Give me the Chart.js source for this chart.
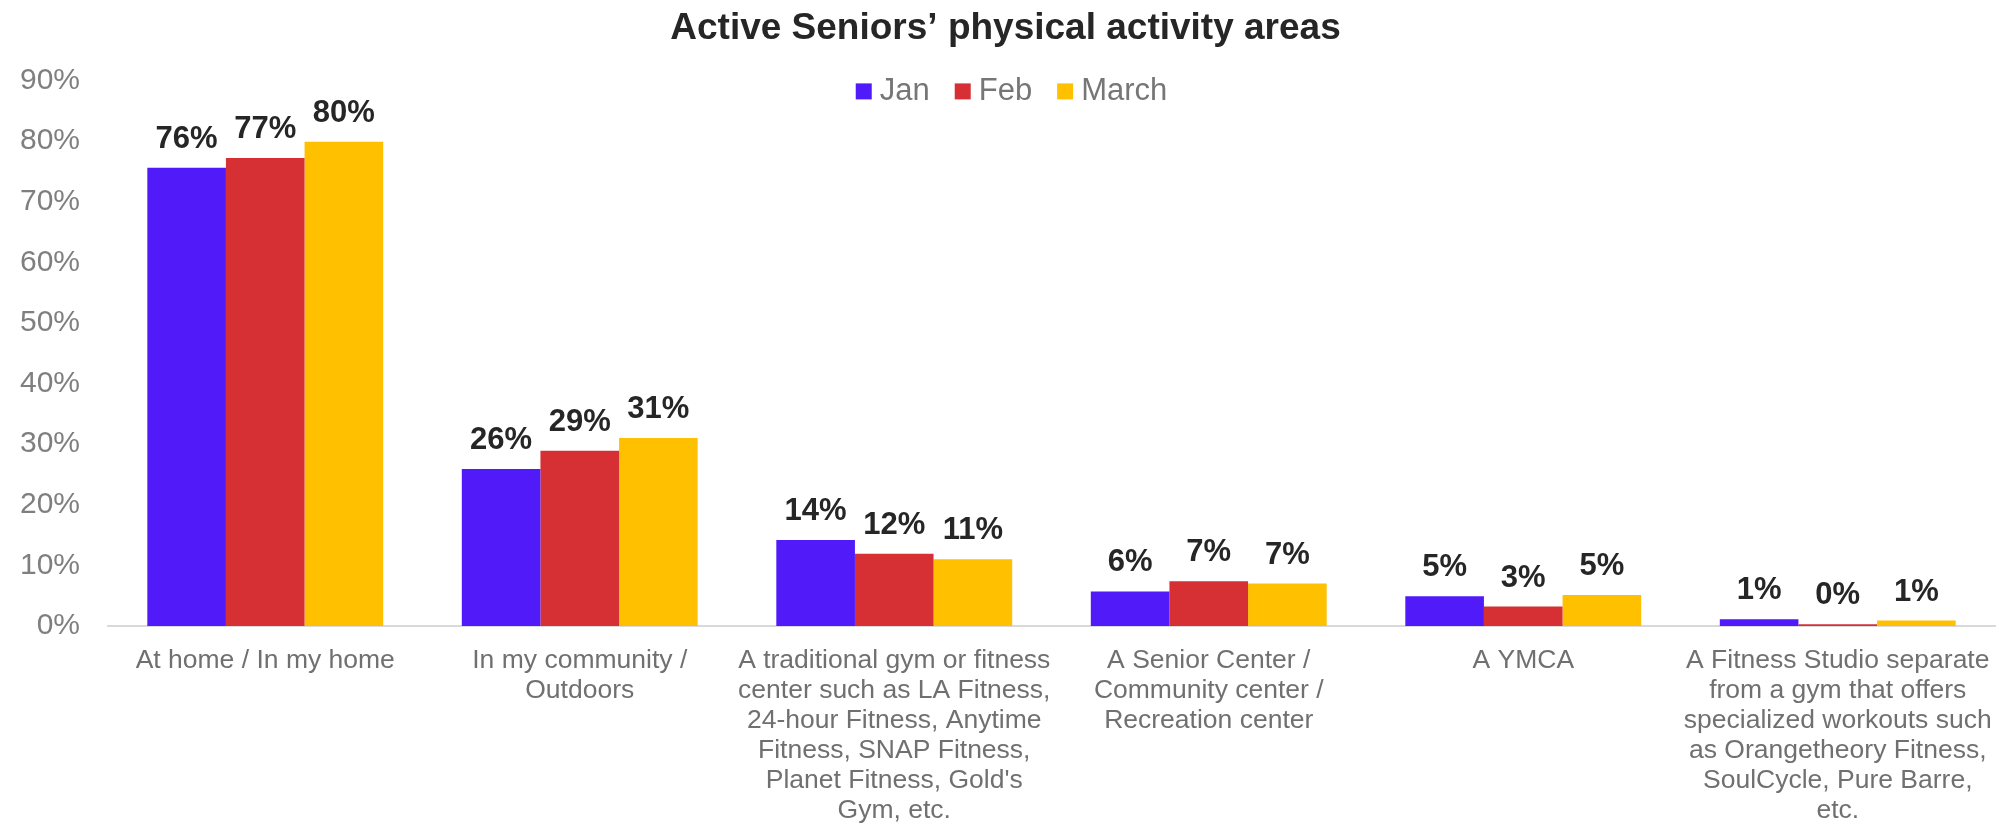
<!DOCTYPE html>
<html>
<head>
<meta charset="utf-8">
<title>Active Seniors’ physical activity areas</title>
<script src="https://cdn.jsdelivr.net/npm/chart.js@4.4.0/dist/chart.umd.min.js"></script>
<style>
  html, body { margin: 0; padding: 0; background: #fff; }
  #areaChart { display: block; }
</style>
</head>
<body>
<canvas id="areaChart" width="2003" height="823"></canvas>
<script>
var categories = [
    ["At home / In my home"],
    ["In my community /", "Outdoors"],
    ["A traditional gym or fitness", "center such as LA Fitness,", "24-hour Fitness, Anytime",
     "Fitness, SNAP Fitness,", "Planet Fitness, Gold's", "Gym, etc."],
    ["A Senior Center /", "Community center /", "Recreation center"],
    ["A YMCA"],
    ["A Fitness Studio separate", "from a gym that offers", "specialized workouts such",
     "as Orangetheory Fitness,", "SoulCycle, Pure Barre,", "etc."]
];
var seriesNames = ["Jan", "Feb", "March"];
var janValues = [75.6, 25.9, 14.2, 5.7, 4.9, 1.1];
var febValues = [77.2, 28.9, 11.9, 7.4, 3.2, 0.3];
var marchValues = [79.9, 31.0, 11.0, 7.0, 5.1, 0.9];
var yTicks = [0, 10, 20, 30, 40, 50, 60, 70, 80, 90];

var janColor = '#501AF9';
var febColor = '#D63035';
var marchColor = '#FFC000';
var fontFamily = '"Liberation Sans", Arial, Helvetica, sans-serif';

Chart.defaults.font.family = fontFamily;

// percentage above each bar
var valueLabels = {
    id: 'valueLabels',
    afterDatasetsDraw: function (chart) {
        var ctx = chart.ctx;
        ctx.save();
        ctx.font = 'bold 31px ' + fontFamily;
        ctx.fillStyle = '#262626';
        ctx.textAlign = 'center';
        ctx.textBaseline = 'alphabetic';
        chart.data.datasets.forEach(function (ds, i) {
            chart.getDatasetMeta(i).data.forEach(function (bar, j) {
                ctx.fillText(Math.round(ds.data[j]) + '%', bar.x, bar.y - 20);
            });
        });
        ctx.restore();
    }
};

// legend sits inside the plot, just under the title
var innerLegend = {
    id: 'innerLegend',
    afterDraw: function (chart) {
        var ctx = chart.ctx;
        var box = 16, gap = 8, spacing = 25;
        ctx.save();
        ctx.font = '31px ' + fontFamily;
        var items = chart.data.datasets.map(function (ds) {
            return { label: ds.label, color: ds.backgroundColor, w: ctx.measureText(ds.label).width };
        });
        var total = spacing * (items.length - 1);
        items.forEach(function (it) { total += box + gap + it.w; });
        var x = chart.width / 2 - total / 2 + 10;
        var y = chart.chartArea.top + 10;
        ctx.textBaseline = 'middle';
        ctx.textAlign = 'left';
        items.forEach(function (it) {
            ctx.fillStyle = it.color;
            ctx.fillRect(x, y - box / 2 + 1, box, box);
            x += box + gap;
            ctx.fillStyle = '#767676';
            ctx.fillText(it.label, x, y + 1);
            x += it.w + spacing;
        });
        ctx.restore();
    }
};

function renderChart() {
    var ctx = document.getElementById('areaChart').getContext('2d');
    return new Chart(ctx, {
        type: 'bar',
        data: {
            labels: categories,
            datasets: [
                { label: seriesNames[0], data: janValues, backgroundColor: janColor },
                { label: seriesNames[1], data: febValues, backgroundColor: febColor },
                { label: seriesNames[2], data: marchValues, backgroundColor: marchColor }
            ]
        },
        options: {
            responsive: false,
            animation: false,
            categoryPercentage: 0.75,
            barPercentage: 1.0,
            layout: { padding: { left: 16, right: 8, top: 0, bottom: 0 } },
            plugins: {
                legend: { display: false },
                tooltip: { enabled: false },
                title: {
                    display: true,
                    text: 'Active Seniors’ physical activity areas',
                    color: '#262626',
                    font: { size: 37, weight: 'bold' },
                    padding: { top: 7, bottom: 29 }
                }
            },
            scales: {
                x: {
                    grid: { display: false, drawTicks: false },
                    border: { display: true, color: '#D9D9D9', width: 2 },
                    ticks: {
                        color: '#707070',
                        font: { size: 26.5, lineHeight: 1.13 },
                        padding: 20,
                        maxRotation: 0,
                        minRotation: 0,
                        autoSkip: false
                    },
                    // long labels run to the bottom edge of the canvas,
                    // and the last one fits inside its own category
                    afterFit: function (scale) {
                        scale.height = 197;
                        scale.paddingLeft = 0;
                        scale.paddingRight = 0;
                    }
                },
                y: {
                    min: 0,
                    max: 90,
                    grid: { display: false, drawTicks: false },
                    border: { display: false },
                    afterBuildTicks: function (axis) {
                        axis.ticks = yTicks.map(function (v) { return { value: v }; });
                    },
                    afterFit: function (scale) { scale.width = 92; },
                    ticks: {
                        color: '#7F7F7F',
                        font: { size: 30 },
                        padding: 28,
                        callback: function (v) { return v + '%'; }
                    }
                }
            }
        },
        plugins: [valueLabels, innerLegend]
    });
}

renderChart();
</script>
</body>
</html>
